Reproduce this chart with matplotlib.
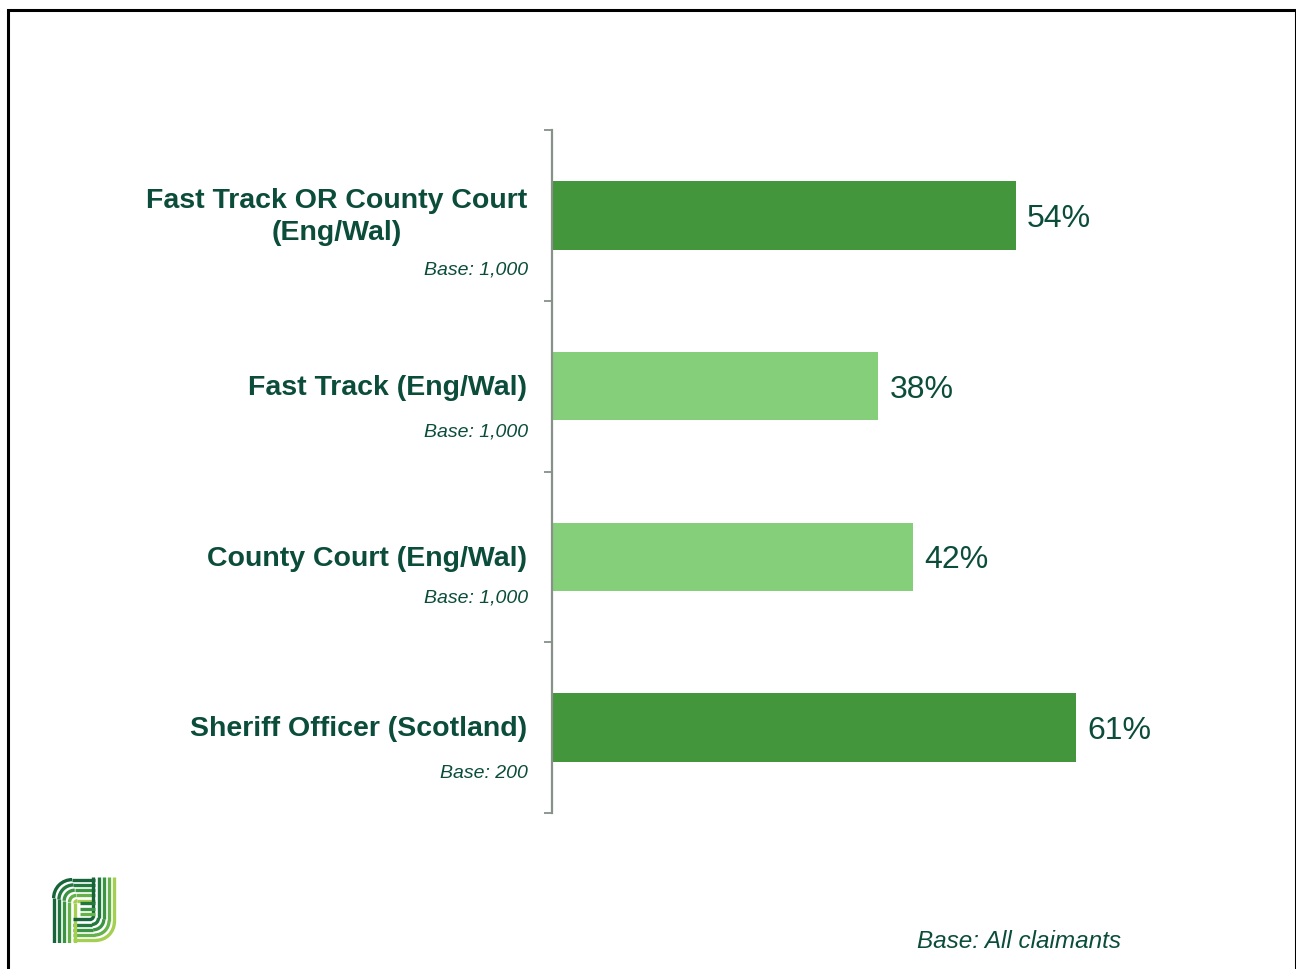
import numpy as np
import matplotlib.pyplot as plt
from matplotlib.patches import Rectangle, Arc

plt.rcParams['font.family'] = ['Liberation Sans', 'DejaVu Sans']

categories = ["Fast Track OR County Court\n(Eng/Wal)",
              "Fast Track (Eng/Wal)",
              "County Court (Eng/Wal)",
              "Sheriff Officer (Scotland)"]
values = [54, 38, 42, 61]
bases = ["Base: 1,000", "Base: 1,000", "Base: 1,000", "Base: 200"]
highlight = [True, False, False, True]
footnote = "Base: All claimants"

DARK = '#43963B'
LIGHT = '#85CE7A'
TEXT = '#0B4D3A'
AXIS = '#879089'

fig = plt.figure(figsize=(12.96, 9.69), dpi=100)
W, H = 1296, 969

# outer frame
fig.add_artist(Rectangle((7.5 / W, -0.02), (1295.5 - 7.5) / W, 1 - 9.5 / H + 0.02,
                         transform=fig.transFigure, fill=False, ec='black',
                         lw=2.2, clip_on=False))

ax = fig.add_axes([552 / W, (H - 813) / H, 687 / W, 683 / H])
y = np.arange(len(categories))
colors = [DARK if h else LIGHT for h in highlight]
bars = ax.barh(y, values, height=0.4, color=colors, zorder=2)
ax.set_xlim(0, 80)
ax.set_ylim(len(categories) - 0.5, -0.5)

for s in ['top', 'right', 'bottom']:
    ax.spines[s].set_visible(False)
ax.spines['left'].set_color(AXIS)
ax.spines['left'].set_linewidth(1.6)
ax.set_xticks([])
ax.set_yticks(np.arange(-0.5, len(categories)))
ax.set_yticklabels([])
ax.tick_params(axis='y', direction='out', length=6, width=1.3, color=AXIS)

# value labels at bar ends
for b, v in zip(bars, values):
    ax.annotate(f"{v}%", (b.get_width(), b.get_y() + b.get_height() / 2),
                xytext=(8, -2.5), textcoords='offset points', va='center',
                ha='left', fontsize=23, color=TEXT)

# category labels and bases, left of the axis
base_shift = [39.5, 33, 29.5, 33]
for i, (cat, base) in enumerate(zip(categories, bases)):
    ax.annotate(cat, (0, i), xytext=(-18, -1.2), textcoords='offset points',
                ha='right', va='center', multialignment='center',
                fontsize=20.5, fontweight='bold', color=TEXT, linespacing=1.3,
                annotation_clip=False)
    ax.annotate(base, (0, i), xytext=(-17.5, -base_shift[i]),
                textcoords='offset points', ha='right', va='center',
                fontsize=14, fontstyle='italic', color=TEXT,
                annotation_clip=False)

fig.text(1121 / W, 1 - 942 / H, footnote, ha='right', va='center',
         fontsize=17.5, fontstyle='italic', color=TEXT)

# logo: striped F/J mark
lax = fig.add_axes([51 / W, (H - 943) / H, 66 / W, 66 / H])
lax.set_xlim(0, 10)
lax.set_ylim(0, 10)
lax.axis('off')
shades = ['#17643A', '#23783E', '#3A9442', '#66B24A', '#A4CF50']
lw = 2.4
for k, c in enumerate(shades):
    o = 0.4 + k * 0.8
    r = max(2.8 - k * 0.6, 0.3)
    # left upright curving into the top bar
    lax.plot([o, o], [0, 10 - o - r], color=c, lw=lw, solid_capstyle='butt')
    lax.add_patch(Arc((o + r, 10 - o - r), 2 * r, 2 * r, theta1=90, theta2=180,
                      color=c, lw=lw))
    lax.plot([o + r, 6.6], [10 - o, 10 - o], color=c, lw=lw,
             solid_capstyle='butt')
    # right upright curving into the bottom bar
    jc = shades[::-1][k]
    lax.plot([10 - o, 10 - o], [10, o + r], color=jc, lw=lw,
             solid_capstyle='butt')
    lax.add_patch(Arc((10 - o - r, o + r), 2 * r, 2 * r, theta1=270, theta2=360,
                      color=jc, lw=lw))
    lax.plot([10 - o - r, 3.4], [o, o], color=jc, lw=lw, solid_capstyle='butt')
# middle bars
for k, c in enumerate(shades[1:4]):
    yy = 6.0 - k * 0.8
    lax.plot([4.4, 6.6], [yy, yy], color=c, lw=lw, solid_capstyle='butt')

fig.savefig('out.png', dpi=100)
